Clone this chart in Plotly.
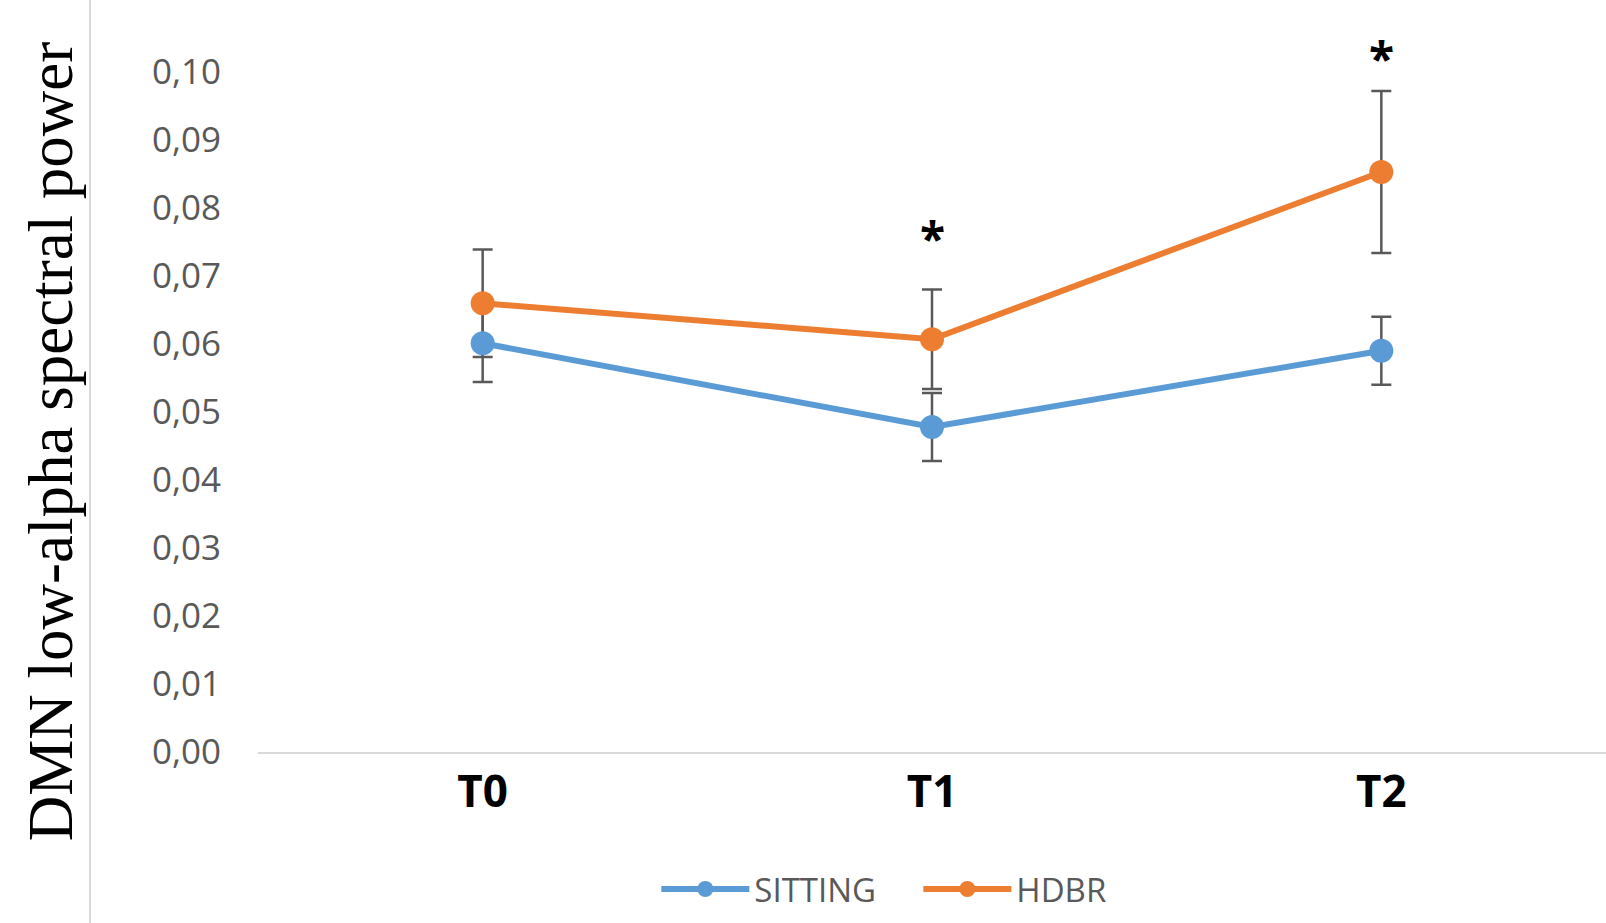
import plotly.graph_objects as go

# ---- data ----
categories = ["T0", "T1", "T2"]
sitting = [0.0601, 0.0478, 0.0590]
sitting_err = [0.0057, 0.0050, 0.0050]
hdbr = [0.0660, 0.0607, 0.0853]
hdbr_err = [0.0079, 0.0073, 0.0119]
sig_labels = ["", "*", "*"]
sig_y = [None, 0.0756, 0.1021]
y_ticks = [0.00, 0.01, 0.02, 0.03, 0.04, 0.05, 0.06, 0.07, 0.08, 0.09, 0.10]
Y_MAX = 0.10

BLUE = "#5B9BD5"
ORANGE = "#ED7D31"
GREY_ERR = "#595959"
GREY_TXT = "#595959"

fig = go.Figure()

# error bars first (so markers sit on top)
for vals, errs in [(sitting, sitting_err), (hdbr, hdbr_err)]:
    fig.add_trace(go.Scatter(
        x=categories, y=vals, mode="lines", line=dict(width=0, color="rgba(0,0,0,0)"),
        error_y=dict(type="data", array=errs, visible=True, color=GREY_ERR,
                     thickness=2.5, width=10),
        showlegend=False, hoverinfo="skip"))

fig.add_trace(go.Scatter(
    x=categories, y=sitting, name="SITTING", mode="lines+markers",
    line=dict(color=BLUE, width=6), marker=dict(color=BLUE, size=24)))
fig.add_trace(go.Scatter(
    x=categories, y=hdbr, name="HDBR", mode="lines+markers",
    line=dict(color=ORANGE, width=6), marker=dict(color=ORANGE, size=24)))

annotations = []
for c, lab, yv in zip(categories, sig_labels, sig_y):
    if lab:
        annotations.append(dict(x=c, y=yv / Y_MAX, xref="x", yref="paper", text=lab,
                                showarrow=False,
                                font=dict(family="Open Sans", size=46, color="black",
                                          weight="bold"),
                                xanchor="center", yanchor="middle"))

annotations.append(dict(
    x=-0.1536, y=0.457, xref="paper", yref="paper", text="DMN low-alpha spectral power",
    textangle=-90, showarrow=False, xanchor="center", yanchor="middle",
    font=dict(family="Liberation Serif", size=63, color="black")))

fig.update_layout(
    width=1606, height=923,
    margin=dict(l=258, r=0, t=72, b=171),
    paper_bgcolor="white", plot_bgcolor="white",
    separators=",.",
    font=dict(family="Open Sans", color=GREY_TXT),
    xaxis=dict(type="category", range=[-0.5, 2.5], showgrid=False, zeroline=False,
               showline=True, linecolor="#D9D9D9", linewidth=2, ticks="",
               tickfont=dict(family="Open Sans", size=44, color="black", weight="bold"),
               ticklabelstandoff=0),
    yaxis=dict(range=[0, Y_MAX], tickvals=y_ticks, tickformat=".2f", showgrid=False,
               zeroline=False, showline=False, ticks="",
               tickfont=dict(family="Open Sans", size=35, color=GREY_TXT),
               ticklabelstandoff=36),
    legend=dict(orientation="h", x=0.2955, xanchor="left", y=-0.2015, yanchor="middle",
                font=dict(family="Open Sans", size=33, color=GREY_TXT),
                itemwidth=88, entrywidth=159, bgcolor="rgba(0,0,0,0)"),
    annotations=annotations,
    shapes=[dict(type="line", xref="paper", yref="paper", x0=-0.1246, x1=-0.1246,
                 y0=-0.26, y1=1.12, line=dict(color="#D9D9D9", width=2))],
)

fig.write_html("out.html", config={"displayModeBar": False},
               post_script="document.body.style.margin='0';")
